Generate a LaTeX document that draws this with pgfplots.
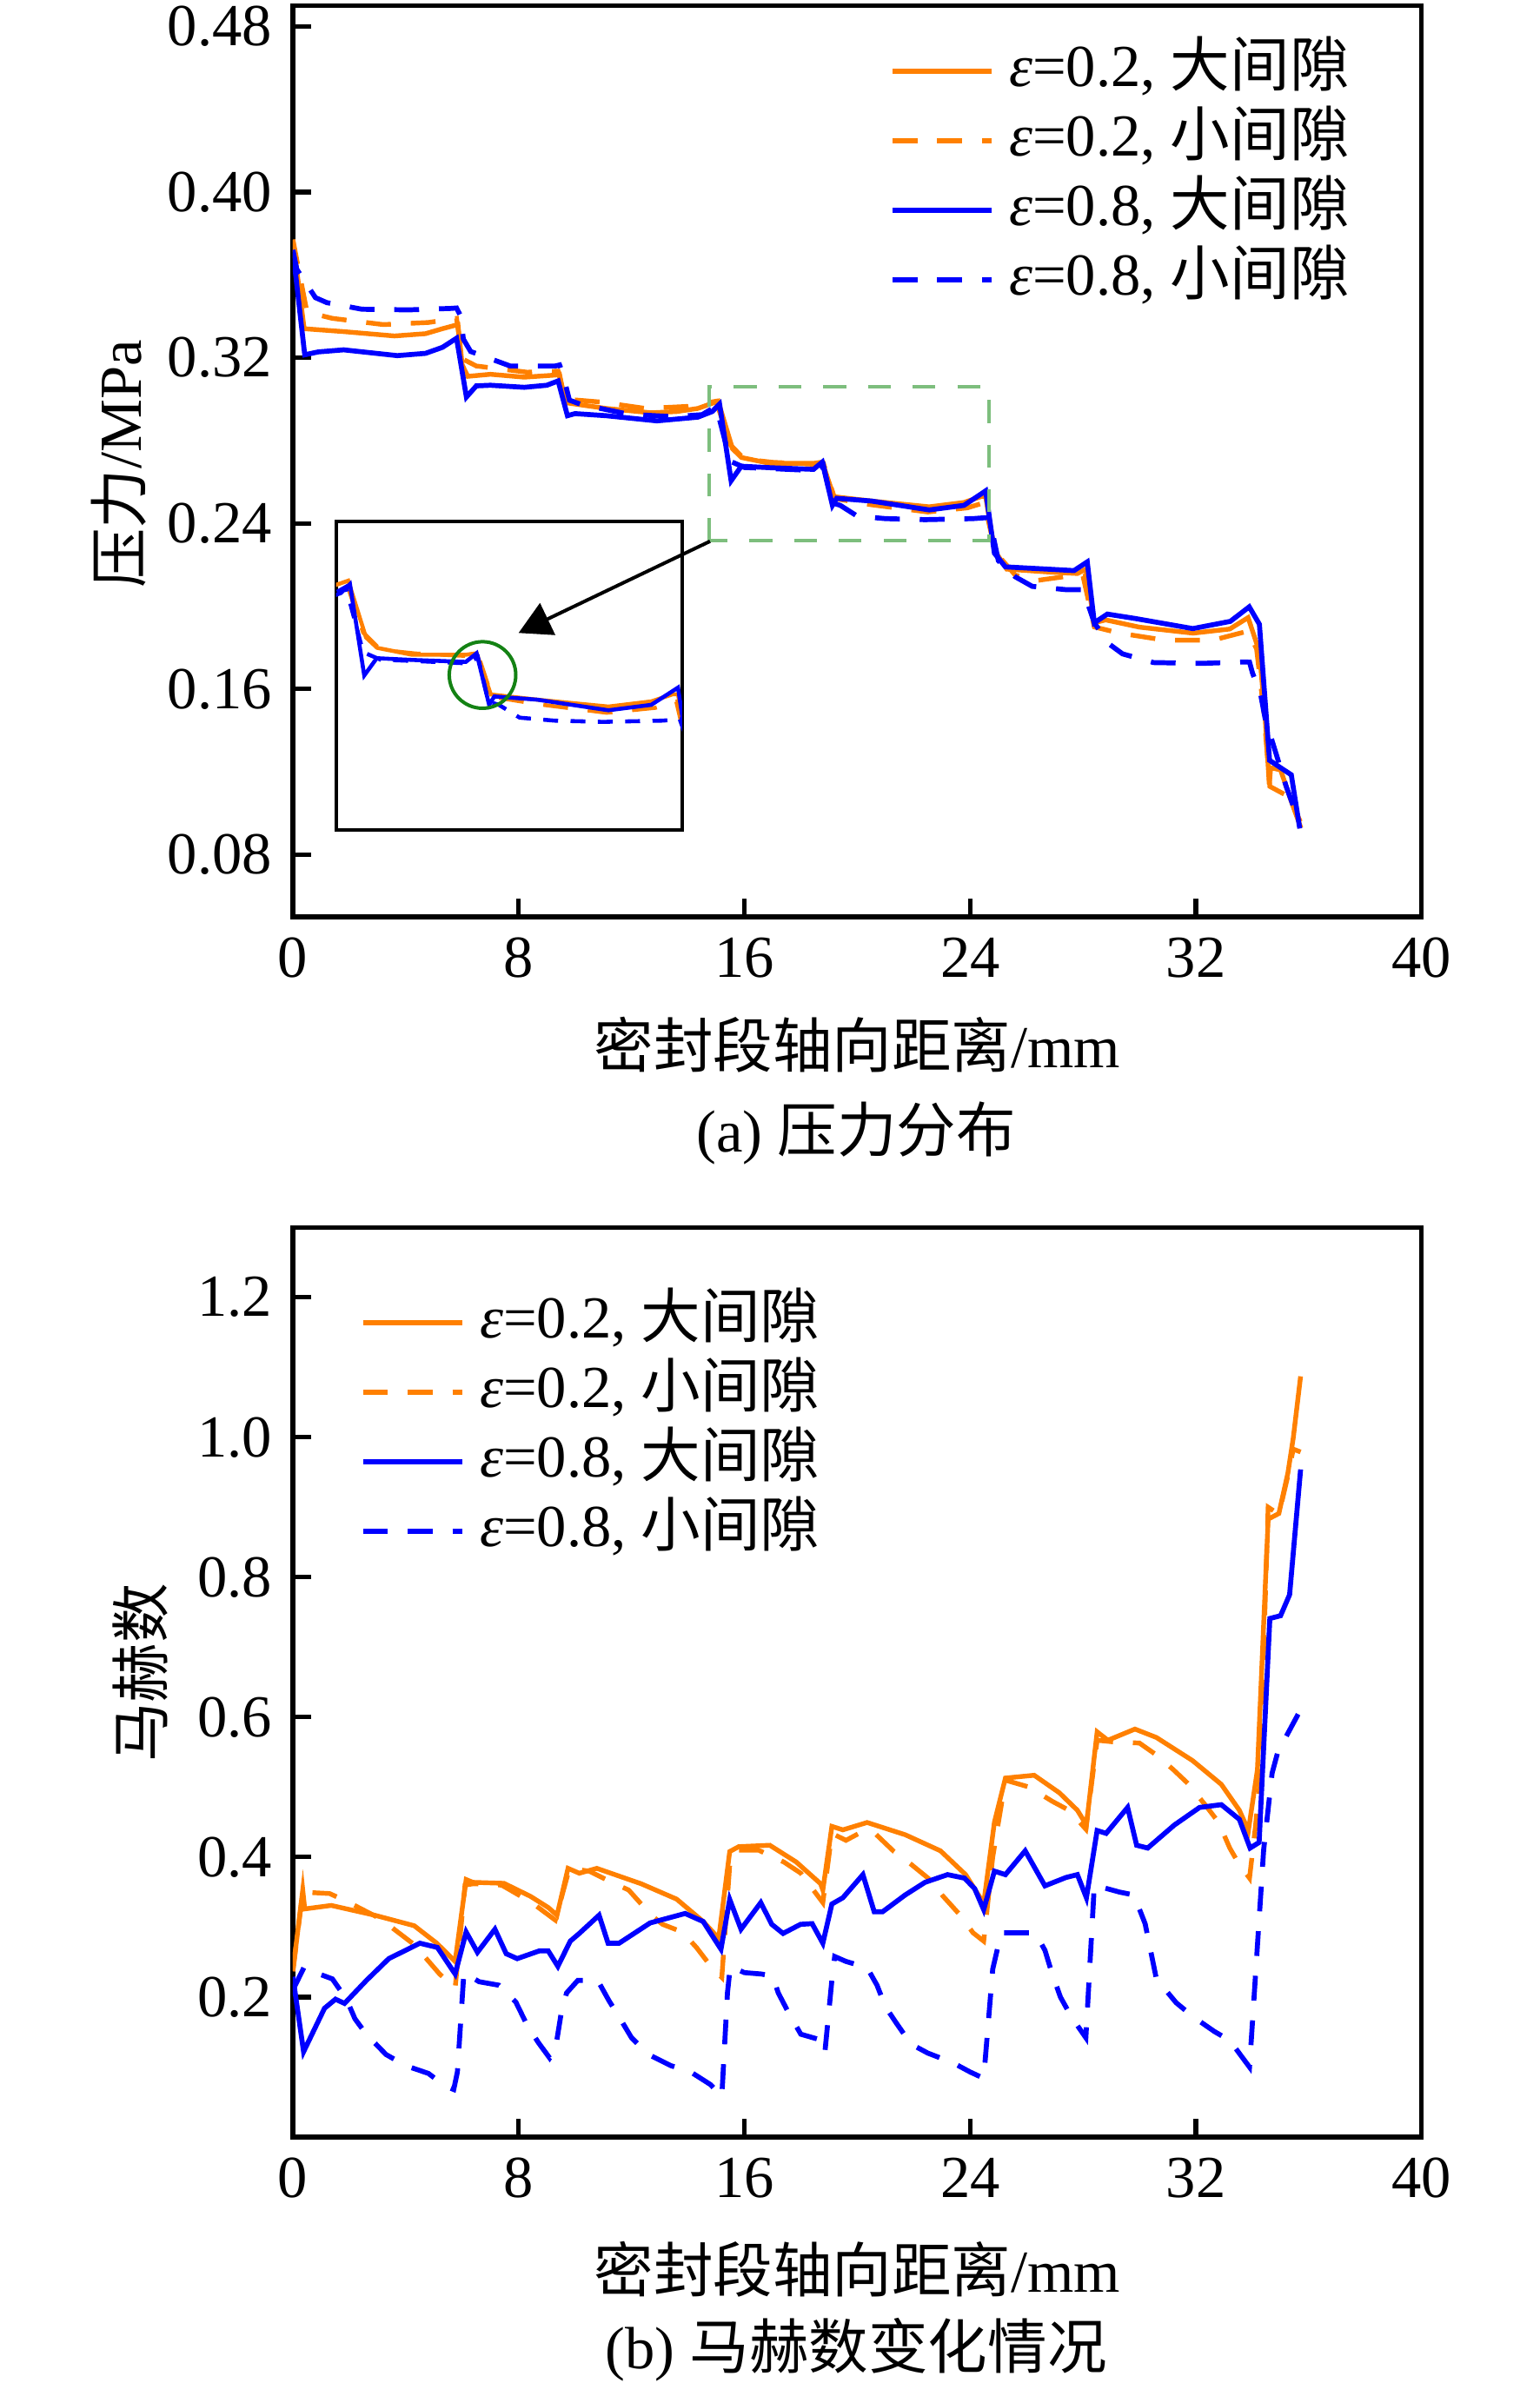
\documentclass[border=0pt]{standalone}
\usepackage{fontspec}
\setmainfont{Liberation Serif}
\newfontfamily\cjk{Noto Sans CJK SC}
\usepackage{pgfplots}
\pgfplotsset{compat=1.18}
\usetikzlibrary{arrows.meta}
\definecolor{myor}{RGB}{255,128,0}
\definecolor{mybl}{RGB}{0,0,255}
\definecolor{gbox}{RGB}{125,190,125}
\definecolor{gcirc}{RGB}{20,130,20}

\pgfplotsset{
 base/.style={scale only axis, width=227.3pt, xmin=0, xmax=40, xtick={0,8,...,40},
   tick align=inside, xtick pos=bottom, ytick pos=left, major tick length=3.7pt,
   axis line style={line width=0.9pt}, every tick/.style={black, line width=0.9pt},
   /pgf/number format/assume math mode=true,
   legend cell align=left,
   legend style={draw=none, fill=none, inner sep=0pt, outer sep=0pt, row sep=3pt, column sep=0pt,
     nodes={inner xsep=3pt, inner ysep=0pt, text height=8.5pt, text depth=2.5pt}},
   legend image code/.code={\draw[##1] (0pt,0pt) -- (20pt,0pt);},
   font=\fontsize{12}{14}\selectfont},
 or1/.style={myor, line width=0.95pt},
 or2/.style={myor, line width=0.95pt, dash pattern=on 5pt off 4pt},
 bl1/.style={mybl, line width=1.0pt},
 bl2/.style={mybl, line width=1.0pt, dash pattern=on 5pt off 4pt},
}

\newcommand{\POA}{(0,0.377) (0.4,0.334) (1.8,0.3326) (3.6,0.3305) (4.7,0.3316) (5.3,0.334) (5.85,0.336) (6.0,0.3165) (6.2,0.311) (7.0,0.312) (8.2,0.3106) (9.3,0.3116) (9.45,0.312) (9.65,0.2983) (11.1,0.2955) (12.7,0.2934) (13.6,0.294) (14.35,0.2955) (15.07,0.299) (15.58,0.276) (15.9,0.2718) (16.9,0.269) (18.45,0.269) (18.76,0.2696) (19.17,0.2529) (20.5,0.2508) (22.55,0.248) (23.78,0.2501) (24.4,0.253) (24.55,0.253) (24.86,0.227) (25.3,0.2179) (26.8,0.2165) (27.8,0.2158) (28.1,0.2179) (28.4,0.192) (28.8,0.1934) (30.0,0.1899) (31.9,0.187) (33.2,0.189) (33.85,0.1945) (34.25,0.178) (34.45,0.147) (34.6,0.114) (34.65,0.122) (35.0,0.121) (35.4,0.105) (35.72,0.093)}
\newcommand{\POB}{(0,0.377) (0.5,0.342) (1.4,0.339) (3.2,0.336) (4.8,0.337) (5.8,0.339) (6.0,0.3195) (6.5,0.316) (8.3,0.313) (9.4,0.3135) (9.65,0.300) (10.9,0.2986) (12.5,0.2955) (14.0,0.2965) (15.0,0.299) (15.5,0.278) (16.0,0.271) (17.0,0.2695) (18.5,0.2685) (18.8,0.269) (19.2,0.252) (20.5,0.249) (22.5,0.2455) (23.9,0.2475) (24.5,0.250) (24.9,0.226) (25.6,0.215) (26.4,0.2125) (27.3,0.2142) (28.0,0.2145) (28.4,0.190) (29.3,0.187) (30.9,0.1836) (32.6,0.1836) (33.85,0.188) (34.15,0.1794) (34.4,0.150) (34.62,0.113) (35.3,0.108) (35.7,0.096)}
\newcommand{\PBA}{(0,0.372) (0.42,0.3214) (0.9,0.3228) (1.8,0.3238) (3.7,0.321) (4.7,0.3221) (5.3,0.325) (5.8,0.3294) (6.15,0.301) (6.5,0.3064) (7.0,0.3067) (8.2,0.3057) (9.0,0.3067) (9.4,0.3088) (9.73,0.292) (10.0,0.293) (11.1,0.292) (12.9,0.2895) (14.35,0.2913) (14.86,0.294) (15.12,0.2976) (15.53,0.2606) (15.89,0.2676) (16.9,0.2669) (18.45,0.2661) (18.76,0.2696) (19.12,0.2487) (19.27,0.2521) (20.5,0.2508) (22.55,0.2465) (23.78,0.2487) (24.55,0.2557) (24.86,0.2256) (25.25,0.2190) (26.76,0.2179) (27.68,0.2172) (28.15,0.2214) (28.4,0.192) (28.86,0.1962) (29.84,0.1941) (31.89,0.1892) (33.22,0.1927) (33.89,0.1997) (34.25,0.1913) (34.61,0.1256) (34.96,0.1224) (35.38,0.1186) (35.68,0.0927)}
\newcommand{\PBB}{(0,0.372) (0.14,0.3627) (0.8,0.349) (1.2,0.3466) (2.45,0.3434) (4.1,0.3431) (5.6,0.3438) (5.8,0.344) (5.95,0.340) (6.04,0.329) (6.3,0.323) (7.7,0.316) (9.3,0.316) (9.45,0.3165) (9.55,0.313) (9.8,0.2995) (10.2,0.2975) (11.9,0.2927) (13.5,0.2915) (14.5,0.2925) (15.0,0.2965) (15.5,0.270) (16.0,0.267) (16.9,0.2665) (18.5,0.2655) (18.8,0.268) (19.1,0.250) (19.4,0.2487) (20.0,0.2435) (21,0.2423) (22.4,0.2418) (24.1,0.2423) (24.6,0.2428) (24.8,0.235) (25.0,0.222) (25.6,0.2142) (26.2,0.2096) (27.4,0.208) (28.0,0.208) (28.4,0.192) (28.9,0.182) (29.4,0.177) (30.5,0.1728) (32.2,0.1724) (33.7,0.1731) (33.9,0.173) (34.0,0.168) (34.3,0.157) (34.45,0.146) (35.2,0.113) (35.65,0.096)}

\begin{document}
\fontsize{12}{14}\selectfont
\begin{tikzpicture}
\useasboundingbox (0,0) rectangle (310.1pt,-479.85pt);
% ---------- (a) pressure ----------
\begin{axis}[base, at={(58.975pt,-184.625pt)}, anchor=south west, height=183.5pt,
  ymin=0.05, ymax=0.49, ytick={0.08,0.16,0.24,0.32,0.40,0.48},
  yticklabel style={/pgf/number format/.cd, fixed, fixed zerofill, precision=2},
  xlabel={{\cjk 密封段轴向距离}/mm},
  xlabel style={at={(axis description cs:0.5,-0.140)}, anchor=center},
  ylabel={{\cjk 压力}/MPa},
  ylabel style={at={(axis description cs:-0.154,0.497)}, anchor=center},
  legend style={at={(axis description cs:0.529,0.958)}, anchor=north west}]
\addplot[or1] coordinates {\POA};
\addlegendentry{\textit{ε}=0.2, {\cjk 大间隙}}
\addplot[or2] coordinates {\POB};
\addlegendentry{\textit{ε}=0.2, {\cjk 小间隙}}
\addplot[bl1] coordinates {\PBA};
\addlegendentry{\textit{ε}=0.8, {\cjk 大间隙}}
\addplot[bl2] coordinates {\PBB};
\addlegendentry{\textit{ε}=0.8, {\cjk 小间隙}}
\draw[gbox, line width=0.7pt, dash pattern=on 4.6pt off 4.4pt] (axis cs:14.76,0.2315) rectangle (axis cs:24.66,0.306);
\end{axis}
% ---------- inset ----------
\begin{axis}[at={(67.67pt,-167.125pt)}, anchor=south west, scale only axis,
  width=69.7pt, height=62.125pt, xmin=14.72, xmax=24.67, ymin=0.198, ymax=0.323,
  ticks=none, axis line style={line width=0.7pt}, axis background/.style={fill=white}]
\addplot[or1, line width=0.8pt] coordinates {\POA};
\addplot[or2, line width=0.8pt] coordinates {\POB};
\addplot[bl1, line width=0.8pt] coordinates {\PBA};
\addplot[bl2, line width=0.8pt, dash pattern=on 3pt off 2.5pt] coordinates {\PBB};
\draw[gcirc, line width=0.7pt] (axis cs:18.93,0.2608) circle [radius=6.7pt];
\end{axis}
\draw[line width=0.7pt, -{Triangle[length=6.5pt,width=7pt]}] (142.975pt,-108.99pt) -- (104.42pt,-127.45pt);
\node at (172.4pt,-228.2pt) {(a) {\cjk 压力分布}};
% ---------- (b) Mach ----------
\begin{axis}[base, at={(58.975pt,-430.325pt)}, anchor=south west, height=183.2pt,
  ymin=0, ymax=1.3, ytick={0.2,0.4,...,1.2},
  yticklabel style={/pgf/number format/.cd, fixed, fixed zerofill, precision=1},
  xlabel={{\cjk 密封段轴向距离}/mm},
  xlabel style={at={(axis description cs:0.5,-0.145)}, anchor=center},
  ylabel={{\cjk 马赫数}},
  ylabel style={at={(axis description cs:-0.1355,0.51)}, anchor=center},
  legend style={at={(axis description cs:0.060,0.925)}, anchor=north west}]
\addplot[or1] coordinates {(0,0.237) (0.35,0.353) (0.42,0.326) (1.36,0.331) (2.9,0.317) (4.3,0.302) (5.1,0.277) (5.75,0.251) (6.14,0.368) (6.38,0.364) (7.48,0.3626) (8.42,0.344) (9.05,0.328) (9.36,0.317) (9.75,0.384) (10.15,0.377) (10.77,0.384) (12.34,0.362) (13.6,0.34) (14.54,0.308) (15.09,0.284) (15.48,0.408) (15.8,0.415) (16.9,0.417) (17.84,0.393) (18.7,0.362) (18.78,0.353) (19.1,0.444) (19.49,0.439) (20.35,0.4495) (21.7,0.432) (22.95,0.409) (23.84,0.375) (24.48,0.334) (24.86,0.450) (25.25,0.513) (26.27,0.517) (27.16,0.492) (27.8,0.467) (28.12,0.446) (28.5,0.579) (28.88,0.567) (29.84,0.583) (30.6,0.571) (31.88,0.538) (32.9,0.504) (33.54,0.467) (33.86,0.438) (34.18,0.525) (34.56,0.883) (34.94,0.891) (35.26,0.949) (35.45,0.999) (35.71,1.087)};
\addlegendentry{\textit{ε}=0.2, {\cjk 大间隙}}
\addplot[or2] coordinates {(0,0.237) (0.35,0.35) (1.3,0.348) (1.9,0.337) (3.1,0.312) (4.3,0.275) (5.2,0.233) (5.75,0.213) (6.1,0.36) (6.4,0.362) (7.4,0.36) (8.0,0.346) (8.6,0.331) (9.3,0.31) (9.8,0.384) (10.5,0.38) (11.2,0.366) (11.9,0.353) (12.7,0.317) (13.1,0.304) (13.8,0.293) (14.3,0.271) (14.85,0.242) (15.2,0.228) (15.5,0.40) (15.8,0.41) (16.5,0.41) (17.4,0.393) (18.0,0.377) (18.78,0.335) (19.1,0.434) (19.6,0.424) (20.2,0.437) (20.6,0.435) (21.3,0.408) (21.9,0.39) (22.6,0.367) (23.0,0.346) (23.65,0.317) (24.1,0.292) (24.48,0.28) (24.8,0.40) (25.25,0.51) (26.1,0.50) (26.9,0.48) (27.5,0.467) (28.1,0.44) (28.5,0.567) (29.0,0.565) (30.0,0.563) (30.6,0.546) (31.2,0.525) (31.75,0.504) (32.4,0.471) (32.8,0.45) (33.2,0.413) (33.5,0.392) (33.9,0.37) (34.1,0.44) (34.25,0.50) (34.56,0.90) (34.94,0.89) (35.26,0.945) (35.45,0.983) (35.71,0.979)};
\addlegendentry{\textit{ε}=0.2, {\cjk 小间隙}}
\addplot[bl1] coordinates {(0,0.229) (0.38,0.122) (1.12,0.184) (1.51,0.197) (1.83,0.191) (2.61,0.224) (3.4,0.255) (4.5,0.277) (5.12,0.271) (5.75,0.233) (6.14,0.293) (6.54,0.264) (7.16,0.297) (7.56,0.262) (7.95,0.255) (8.73,0.266) (9.05,0.266) (9.39,0.244) (9.83,0.280) (10.15,0.291) (10.85,0.317) (11.17,0.277) (11.56,0.277) (12.66,0.306) (13.9,0.3195) (14.54,0.308) (15.17,0.2685) (15.48,0.3395) (15.88,0.297) (16.58,0.335) (16.97,0.304) (17.37,0.291) (17.99,0.304) (18.4,0.305) (18.78,0.277) (19.1,0.333) (19.49,0.342) (20.2,0.375) (20.6,0.322) (20.9,0.322) (21.7,0.346) (22.4,0.364) (23.2,0.375) (23.8,0.37) (24.16,0.355) (24.48,0.325) (24.86,0.380) (25.25,0.375) (25.95,0.409) (26.65,0.359) (27.4,0.371) (27.8,0.375) (28.12,0.342) (28.5,0.438) (28.82,0.434) (29.58,0.471) (29.9,0.417) (30.29,0.413) (31.24,0.446) (32.13,0.471) (32.9,0.475) (33.54,0.454) (33.92,0.413) (34.24,0.421) (34.62,0.741) (35.0,0.745) (35.32,0.775) (35.71,0.954)};
\addlegendentry{\textit{ε}=0.8, {\cjk 大间隙}}
\addplot[bl2] coordinates {(0,0.21) (0.4,0.243) (1.0,0.232) (1.4,0.226) (1.9,0.197) (2.2,0.169) (2.6,0.147) (3.3,0.118) (4.0,0.102) (4.8,0.091) (5.4,0.073) (5.7,0.068) (5.83,0.093) (6.06,0.235) (6.6,0.222) (7.3,0.217) (7.9,0.193) (8.3,0.16) (8.7,0.135) (9.1,0.113) (9.3,0.125) (9.5,0.175) (9.7,0.206) (10.1,0.224) (10.8,0.224) (11.2,0.195) (11.6,0.169) (12.0,0.142) (12.6,0.118) (13.4,0.102) (14.1,0.093) (14.8,0.075) (15.2,0.058) (15.4,0.206) (15.5,0.244) (16.0,0.235) (16.6,0.233) (17.0,0.23) (17.2,0.206) (17.6,0.175) (18.0,0.147) (18.6,0.14) (18.85,0.12) (19.1,0.224) (19.2,0.258) (19.6,0.251) (20.35,0.242) (20.7,0.217) (21.0,0.186) (21.4,0.162) (21.9,0.133) (22.5,0.12) (23.4,0.106) (24.0,0.093) (24.48,0.084) (24.8,0.24) (25.1,0.292) (25.5,0.292) (26.3,0.292) (26.65,0.267) (26.9,0.234) (27.2,0.2) (27.6,0.171) (28.1,0.142) (28.4,0.36) (29.3,0.35) (29.8,0.346) (30.2,0.305) (30.6,0.226) (31.3,0.192) (31.9,0.172) (32.65,0.151) (33.2,0.138) (33.9,0.10) (34.4,0.41) (34.7,0.52) (34.9,0.55) (35.7,0.61)};
\addlegendentry{\textit{ε}=0.8, {\cjk 小间隙}}
\end{axis}
\node at (172.4pt,-473.2pt) {(b) {\cjk 马赫数变化情况}};
\end{tikzpicture}
\end{document}
